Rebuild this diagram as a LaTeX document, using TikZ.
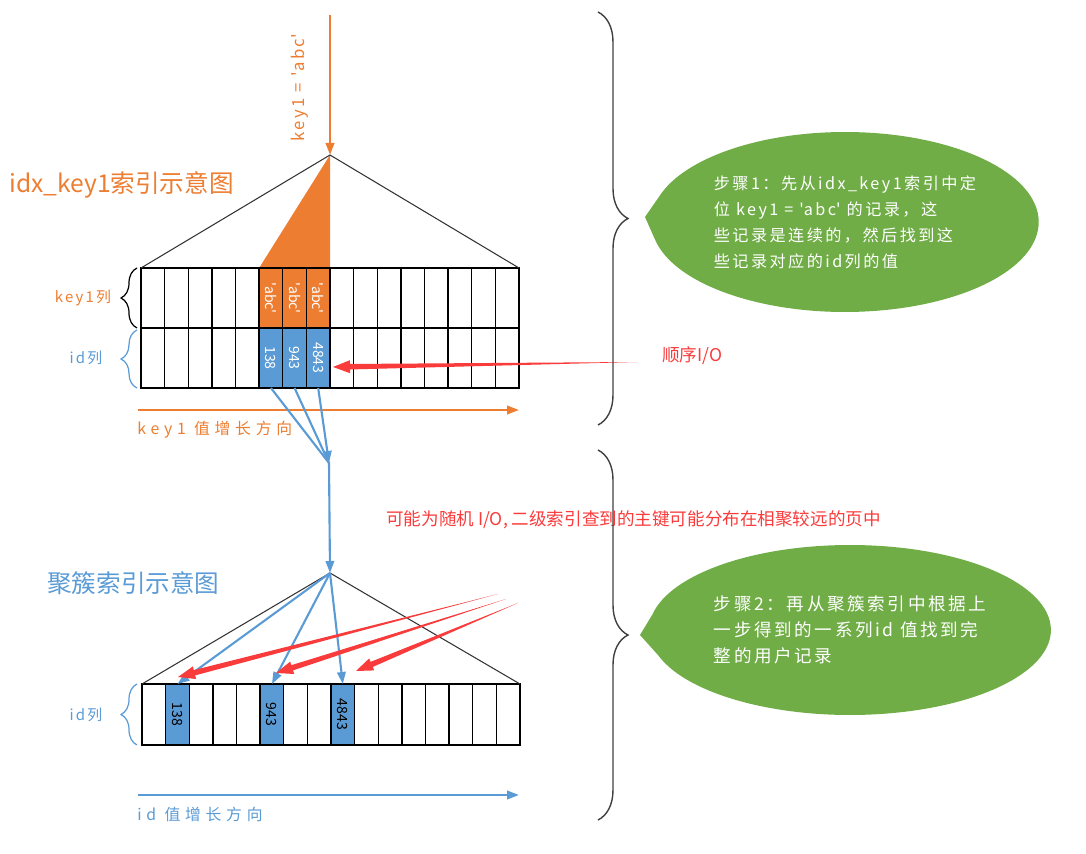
\documentclass[tikz,border=0pt]{standalone}
\usepackage{fontspec}
\setmainfont{Noto Sans CJK SC}
\newfontfamily\spaced[LetterSpace=15]{Noto Sans CJK SC}
\newfontfamily\wide[LetterSpace=30]{Noto Sans CJK SC}
\usetikzlibrary{shapes.callouts,arrows.meta,calc,backgrounds,decorations.pathreplacing}

\definecolor{keyorange}{HTML}{ED7D31}
\definecolor{idblue}{HTML}{5B9BD5}
\definecolor{stepgreen}{HTML}{70AD47}
\definecolor{iored}{HTML}{FA3B3B}

\newcommand{\q}{\textquotesingle}
% tapered red arrow: #1 tail, #2 tip
\newcommand{\ioarrow}[2]{%
  \path ($(#2)!0.34cm!(#1)$) coordinate (hb);
  \fill[iored] (#1) -- ($(hb)!0.055cm!90:(#1)$) -- ($(hb)!0.13cm!90:(#1)$)
    -- (#2) -- ($(hb)!0.13cm!-90:(#1)$) -- ($(hb)!0.055cm!-90:(#1)$) -- cycle;}

\begin{document}
\begin{tikzpicture}[%
    x=0.02cm, y=-0.02cm,        % one unit is one pixel of the sketch
    >={Triangle[length=2.4mm,width=1.7mm]},
    ]
% -------------------------------------------------
% Styles for cells, labels and arrows
\tikzset{
  cell/.style={draw, line width=0.8pt, minimum width=0.4725cm,
    minimum height=1.2cm, inner sep=0pt, outer sep=0pt},
  lowcell/.style={cell, minimum height=1.22cm},
  celltext/.style={rotate=-90, font=\fontsize{8}{8}\selectfont},
  tree/.style={draw=black!80, line width=0.6pt},
  link/.style={idblue, line width=1.2pt},
  orangetxt/.style={text=keyorange, inner sep=0pt},
  bluetxt/.style={text=idblue, inner sep=0pt},
  title/.style={font=\fontsize{14}{14}\selectfont, anchor=west},
  small/.style={font=\spaced\fontsize{8.5}{8.5}\selectfont},
  axislbl/.style={font=\wide\fontsize{9}{9}\selectfont, anchor=west},
  brace/.style={decorate, line width=0.7pt,
    decoration={brace, amplitude=0.32cm}},
  bigbrace/.style={decorate, draw=black!75, line width=0.8pt,
    decoration={brace, amplitude=0.6cm}},
  bubble/.style={ellipse callout, fill=stepgreen, text=white,
    callout pointer arc=28, minimum width=7.4cm, minimum height=3.6cm,
    align=left, font=\spaced\fontsize{9.2}{14.8}\selectfont},
  redtxt/.style={text=iored, font=\fontsize{10}{10}\selectfont,
    anchor=west, inner sep=0pt},
}
\useasboundingbox (0,0) rectangle (1086,854);

% -------------------------------------------------
% idx_key1 index
\coordinate (kstart) at (330,15);
\coordinate (apex1) at (330,155);
\foreach \i in {1,...,16} {
  \node[cell] (k\i) at ({141+(\i-0.5)*23.625},298) {};
  \node[cell] (i\i) at ({141+(\i-0.5)*23.625},358) {};
}
\begin{scope}[on background layer]
  \fill[keyorange] (k6.north west) -- (apex1) -- (k8.north east) -- cycle;
  \fill[keyorange] (k6.north west) rectangle (k8.south east);
  \fill[idblue] (i6.north west) rectangle (i8.south east);
\end{scope}
\draw[tree] (k1.north west) -- (apex1) -- (k16.north east);
\foreach \i in {6,7,8}
  \node[celltext, text=white] (a\i) at (k\i) {\q abc\q};
\foreach \i/\v in {6/138,7/943,8/4843}
  \node[celltext, text=white] (n\i) at (i\i) {\v};

\draw[->, keyorange, line width=1.4pt] (kstart) -- (apex1);
\node[orangetxt, rotate=90, font=\spaced\fontsize{9.5}{9.5}\selectfont]
  (keyeq) at (300,88) {key1 = \q abc\q};
\node[orangetxt, title] (idxtitle) at (9,185) {idx\_key1索引示意图};

\draw[brace] ($(k1.south west)+(-4,0)$) -- ($(k1.north west)+(-4,0)$);
\draw[brace, idblue] ($(i1.south west)+(-4,0)$) -- ($(i1.north west)+(-4,2)$);
\node[orangetxt, small] (keycol) at (83,298) {key1列};
\node[bluetxt, small] (idcol) at (86,358) {id列};

\coordinate (kaxis0) at (138,410);
\coordinate (kaxis1) at (519,410);
\draw[->, keyorange, line width=1.3pt] (kaxis0) -- (kaxis1);
\node[orangetxt, axislbl] (kaxislbl) at (137,430) {key1 值增长方向};

% -------------------------------------------------
% From the id values down to the clustered index
\coordinate (merge) at (329,463);
\coordinate (apex2) at (330,573);
\draw[link] (i6.south) -- (merge);
\draw[link] (i7.south) -- (merge);
\draw[->, link] (i8.south) -- (merge);
\draw[->, link] (merge) -- (apex2);

% -------------------------------------------------
% clustered index
\foreach \i in {1,...,16}
  \node[lowcell] (c\i) at ({142+(\i-0.5)*23.625},714.5) {};
\begin{scope}[on background layer]
  \foreach \i in {2,6,9}
    \fill[idblue] (c\i.north west) rectangle (c\i.south east);
\end{scope}
\foreach \i/\v in {2/138,6/943,9/4843}
  \node[celltext] (m\i) at (c\i) {\v};
\draw[tree] (c1.north west) -- (apex2) -- (c16.north east);
\foreach \i in {2,6,9}
  \draw[->, link] (apex2) -- (c\i.north);

\node[bluetxt, title] (cltitle) at (47,583) {聚簇索引示意图};
\draw[brace, idblue] ($(c1.south west)+(-5,0)$) -- ($(c1.north west)+(-5,0)$);
\node[bluetxt, small] (idcol2) at (86,715) {id列};

\coordinate (iaxis0) at (138,795);
\coordinate (iaxis1) at (519,795);
\draw[->, idblue, line width=1.3pt] (iaxis0) -- (iaxis1);
\node[bluetxt, axislbl] (iaxislbl) at (137,814) {id 值增长方向};

% -------------------------------------------------
% I/O notes
\node[redtxt] (seqio) at (662,356) {顺序I/O};
\coordinate (seqtail) at (637,362);
\coordinate (seqtip) at (333,367);
\ioarrow{seqtail}{seqtip}

\node[redtxt] (randio) at (386,520)
  {可能为随机 I/O, 二级索引查到的主键可能分布在相聚较远的页中};
\coordinate (rt1) at (498,594);
\coordinate (rt2) at (506,599);
\coordinate (rt3) at (518,603);
\coordinate (rp1) at (178,677);
\coordinate (rp2) at (276,673);
\coordinate (rp3) at (356,671);
\ioarrow{rt1}{rp1}
\ioarrow{rt2}{rp2}
\ioarrow{rt3}{rp3}

% -------------------------------------------------
% steps
\draw[bigbrace] (598,12) -- (598,425);
\draw[bigbrace] (598,450) -- (598,820);
\node[bubble, callout absolute pointer={(645,217)}] (step1) at (845,222)
  {步骤1：先从idx\_key1索引中定\\位 key1 = \q abc\q\ 的记录，这\\
   些记录是连续的，然后找到这\\些记录对应的id列的值};
\node[bubble, callout absolute pointer={(640,635)},
  minimum width=7.6cm, minimum height=3.4cm,
  font=\spaced\fontsize{10}{14.8}\selectfont] (step2) at (850,630)
  {步骤2：再从聚簇索引中根据上\\一步得到的一系列id 值找到完\\整的用户记录};
\end{tikzpicture}
\end{document}
